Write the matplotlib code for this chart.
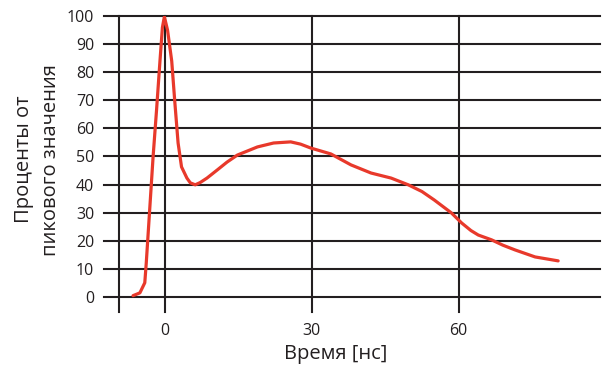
import matplotlib
matplotlib.use("Agg")
import matplotlib.pyplot as plt

# данные кривой (время в нс, проценты от пика)
t_ns = [-6.5, -5.1, -4.1, -3.8, -3.1, -2.4, -1.7, -1.0, -0.5, -0.1,
        0.55, 1.4, 2.05, 2.7, 3.4, 4.5, 5.2, 6.2, 7.2, 8.6, 10.7, 12.7, 14.8,
        18.9, 22.2, 25.7, 27.7, 29.8, 33.9, 38.0, 42.1, 46.2, 49.7, 52.5,
        55.0, 58.5, 60.6, 62.5, 64.0, 66.7, 69.0, 71.5, 75.6, 80.3]
percent = [0.4, 1.4, 5.0, 12.0, 31.0, 50.0, 66.5, 84.0, 96.0, 99.8,
           95.0, 84.0, 69.0, 54.8, 46.3, 42.3, 40.6, 39.9, 40.7, 42.3, 45.2, 48.0, 50.5,
           53.4, 54.8, 55.2, 54.4, 53.0, 50.9, 47.0, 44.1, 42.3, 39.9, 37.5,
           34.5, 29.9, 26.3, 23.6, 22.0, 20.3, 18.4, 16.7, 14.2, 12.8]

y_ticks = list(range(0, 101, 10))
x_ticks = [0, 30, 60]
x_lines = [-9.4, 0, 30, 60]

plt.rcParams['font.family'] = ['Open Sans', 'DejaVu Sans']
txt = '#231f20'

fig = plt.figure(figsize=(6.04, 3.67), dpi=100)
ax = fig.add_axes([0.172, 0.150, 0.821, 0.806])
xmin, xmax = -12.45, 88.8
ymin, ymax = -5.4, 100
ax.set_xlim(xmin, xmax)
ax.set_ylim(ymin, ymax)

# сетка
for y in y_ticks:
    ax.plot([xmin, xmax], [y, y], color=txt, lw=1.5, clip_on=False, zorder=1)
for x in x_lines:
    ax.plot([x, x], [ymin, ymax], color=txt, lw=1.5, clip_on=False, zorder=1)

ax.plot(t_ns, percent, color='#e8392b', lw=2.3, solid_capstyle='round',
        solid_joinstyle='round', zorder=3)

for s in ax.spines.values():
    s.set_visible(False)
ax.set_yticks(y_ticks)
ax.set_xticks(x_ticks)
ax.tick_params(length=0, labelsize=11.5, colors=txt)
ax.tick_params(axis='y', pad=7)
ax.tick_params(axis='x', pad=8)

fig.text(0.555, 0.008, 'Время [нс]', ha='center', va='bottom', fontsize=14.5, color=txt)
fig.text(0.062, 0.565, 'Проценты от\nпикового значения', ha='center', va='center',
         rotation=90, fontsize=14.5, color=txt, linespacing=1.45)

fig.savefig('out.png', dpi=100)
